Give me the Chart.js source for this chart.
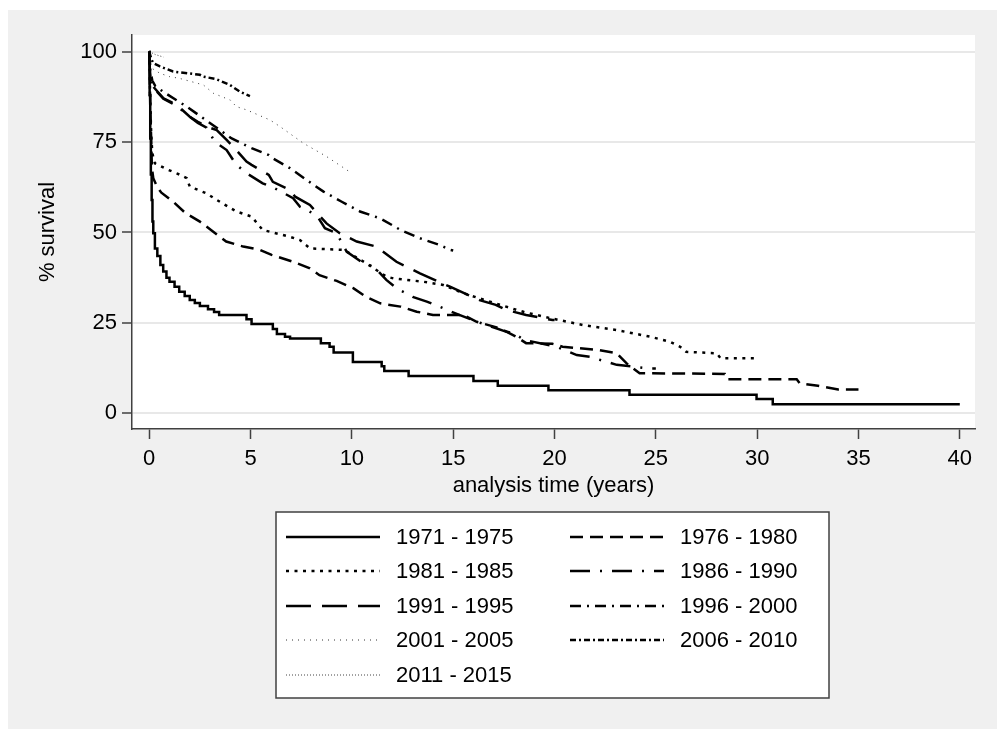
<!DOCTYPE html>
<html>
<head>
<meta charset="utf-8">
<script src="https://cdn.jsdelivr.net/npm/chart.js@4.4.1/dist/chart.umd.min.js"></script>
<style>
  html, body { margin: 0; padding: 0; background: #fff; }
  #wrap { width: 997px; height: 729px; }
</style>
</head>
<body>
<div id="wrap"><canvas id="km" width="997" height="729"></canvas></div>
<script>
// periods (legend order)
const periods = ['1971 - 1975', '1976 - 1980', '1981 - 1985', '1986 - 1990', '1991 - 1995',
                 '1996 - 2000', '2001 - 2005', '2006 - 2010', '2011 - 2015'];

const xTicks = [0, 5, 10, 15, 20, 25, 30, 35, 40];
const yTicks = [0, 25, 50, 75, 100];

// analysis time (years) / % survival
const t1971 = [0, 0.02, 0.05, 0.08, 0.12, 0.16, 0.2, 0.28, 0.4, 0.55, 0.69, 0.85, 1.0, 1.25, 1.48, 1.75, 2.0, 2.25, 2.5, 2.9, 3.2, 3.45, 4.8, 5.05, 6.1, 6.3, 6.7, 6.95, 8.47, 8.9, 9.1, 10.05, 11.47, 11.6, 12.8, 16.0, 17.2, 19.7, 23.7, 29.97, 30.77, 40.0];
const s1971 = [100, 88, 76, 66, 59, 53, 49.8, 45.6, 43.5, 41, 39.2, 37.5, 36.4, 35, 33.6, 32.4, 31.3, 30.5, 29.7, 28.8, 28, 27.2, 26, 24.7, 23.3, 21.9, 21.2, 20.7, 19.4, 18.4, 16.8, 14.2, 13, 11.7, 10.3, 8.9, 7.6, 6.4, 5.1, 3.95, 2.5, 2.5];

const t1976 = [0, 0.05, 0.1, 0.13, 0.2, 0.4, 0.6, 1.18, 1.76, 2.5, 3.16, 3.8, 4.64, 5.46, 6.04, 7.1, 7.93, 8.4, 9.25, 10.07, 10.7, 11.4, 12.4, 13.2, 14.0, 15.5, 16.16, 17.3, 18.1, 18.6, 19.9, 20.4, 22.2, 23.07, 23.56, 24.2, 28.4, 28.5, 31.95, 32.1, 33.0, 34.0, 35.0];
const s1976 = [100, 85, 75, 68, 65, 62.5, 61, 58.5, 55.5, 53, 50.2, 47.5, 46.1, 45.2, 43.8, 41.9, 40.1, 38.2, 36.6, 34.6, 32.2, 30.4, 29.5, 28.1, 27.2, 27.2, 25.3, 23.5, 21.2, 19.4, 19.2, 18.4, 17.5, 16.6, 13.8, 11.1, 10.9, 9.4, 9.4, 8.3, 7.6, 6.6, 6.6];

const t1981 = [0, 0.03, 0.06, 0.1, 0.15, 0.28, 0.5, 0.86, 1.5, 1.85, 2.0, 2.83, 3.33, 4.3, 5.05, 5.6, 6.94, 7.44, 7.93, 9.58, 9.9, 10.7, 11.7, 12.05, 13.5, 14.5, 15.5, 17.3, 18.5, 19.8, 21.4, 23.07, 24.7, 25.7, 26.2, 26.5, 28.0, 28.2, 30.0];
const s1981 = [100, 92, 84, 77, 72, 69.1, 68.5, 67.5, 66, 65, 62.7, 60.8, 59, 55.8, 54.4, 50.7, 48.8, 47.9, 45.6, 45.2, 44.2, 41.5, 37.8, 37.3, 36.4, 35.5, 33.2, 30, 28, 26.3, 24.4, 23.0, 21.2, 19.8, 18.4, 17.0, 16.6, 15.2, 15.2];

const t1986 = [0, 0.03, 0.08, 0.2, 0.7, 1.35, 2.0, 2.4, 2.83, 3.24, 3.82, 4.3, 4.8, 5.6, 6.2, 7.1, 7.44, 8.26, 8.67, 9.25, 9.74, 10.56, 11.1, 11.7, 12.2, 13.0, 13.7, 14.7, 15.3, 16.2, 16.65, 17.6, 18.0, 18.5, 20.1, 21.1, 21.75, 23.07, 24.7, 25.0];
const s1986 = [100, 95, 92, 90, 87, 85, 82, 80.3, 79, 75.1, 72.8, 68.7, 66.4, 63.6, 62.2, 59.5, 57.1, 54.8, 51.2, 49.8, 44.7, 41.5, 40.5, 36.9, 34.6, 32.2, 30.9, 28.6, 27.2, 25.3, 24.4, 22.6, 22.1, 20.3, 18.4, 16.1, 15.6, 13.4, 12.4, 12.4];

const t1991 = [0, 0.03, 0.08, 0.2, 0.7, 1.35, 2.0, 2.4, 2.83, 3.33, 3.82, 4.15, 4.8, 5.05, 5.9, 6.1, 6.94, 7.2, 7.93, 8.26, 8.75, 9.4, 10.24, 11.2, 12.2, 13.36, 14.84, 16.3, 17.1, 17.6, 18.6, 19.9, 20.0];
const s1991 = [100, 95, 92, 90.3, 87.1, 85.3, 82, 80.6, 79.3, 78.3, 75.6, 73.7, 69.6, 68.7, 65.9, 64, 61.8, 59.9, 57.6, 55.5, 52.5, 49.8, 47.5, 46.1, 41.9, 38.7, 35.0, 31.3, 30, 28.6, 27.2, 25.8, 25.8];

const t1996 = [0, 0.05, 0.15, 0.3, 0.69, 1.85, 3.24, 4.07, 5.05, 5.9, 6.1, 6.94, 7.77, 8.6, 9.5, 10.4, 11.4, 12.4, 13.36, 14.35, 14.84, 15.0];
const s1996 = [100, 95, 92, 90.5, 88.9, 84.8, 79.3, 76, 73.3, 71.4, 70.5, 67.8, 64.5, 61.3, 58.5, 55.8, 53.9, 50.7, 48.4, 46.5, 45.2, 45.0];

const t2001 = [0, 0.13, 0.53, 1.0, 1.5, 2.67, 3.16, 4.0, 4.3, 4.8, 5.96, 6.45, 7.6, 8.75, 9.99];
const s2001 = [100, 95.4, 94, 93.1, 92.6, 90.8, 88.5, 86.6, 84.8, 83.9, 81.1, 79.3, 74.7, 71, 66.4];

const t2006 = [0, 0.1, 0.2, 0.53, 1.18, 2.5, 2.67, 3.3, 3.98, 4.48, 4.97];
const s2006 = [100, 98, 96.8, 95.9, 94.5, 93.6, 93.1, 92.4, 90.8, 88.9, 87.7];

const t2011 = [0, 0.3, 0.7];
const s2011 = [100, 99.2, 98.5];

const times = [t1971, t1976, t1981, t1986, t1991, t1996, t2001, t2006, t2011];
const surv  = [s1971, s1976, s1981, s1986, s1991, s1996, s2001, s2006, s2011];

// stata-like line patterns
const dashes = [[], [13, 7], [3, 5.5], [20, 10, 2, 10], [25, 11], [11, 6, 2, 6], [1, 5], [6, 3, 2, 3], [1, 2]];
const widths = [2.5, 2.5, 2.5, 2.5, 2.5, 2.5, 1, 2.5, 1];
const colors = ['#000', '#000', '#000', '#000', '#000', '#000', '#333', '#000', '#444'];

const FONT = 'Liberation Sans, Arial, Helvetica, sans-serif';

const datasets = periods.map((label, i) => ({
  label,
  data: times[i].map((x, j) => ({ x, y: surv[i][j] })),
  borderColor: colors[i],
  borderWidth: widths[i],
  borderDash: dashes[i],
  pointRadius: 0,
  fill: false,
  tension: 0,
  stepped: i === 0
}));

const bgPlugin = {
  id: 'bg',
  beforeDraw(chart) {
    const { ctx, chartArea: a } = chart;
    ctx.save();
    ctx.fillStyle = '#ffffff';
    ctx.fillRect(0, 0, chart.width, chart.height);
    ctx.fillStyle = '#f0f0f0';
    ctx.fillRect(8, 10, chart.width - 8, chart.height - 10);
    ctx.fillStyle = '#ffffff';
    ctx.fillRect(a.left, a.top, a.right - a.left, a.bottom - a.top);
    ctx.restore();
  }
};

// legend box under the plot, two columns
const legendPlugin = {
  id: 'kmLegend',
  afterDraw(chart) {
    const ctx = chart.ctx;
    const box = { x: 276, y: 512, w: 553, h: 186 };
    const rows = [537, 571, 606, 640, 675];
    const cols = [{ l1: 286, l2: 380, tx: 396 }, { l1: 570, l2: 664, tx: 680 }];
    ctx.save();
    ctx.fillStyle = '#fff';
    ctx.fillRect(box.x, box.y, box.w, box.h);
    ctx.strokeStyle = '#404040';
    ctx.lineWidth = 1.5;
    ctx.strokeRect(box.x, box.y, box.w, box.h);
    ctx.font = '22px ' + FONT;
    ctx.textBaseline = 'middle';
    chart.data.datasets.forEach((ds, i) => {
      const c = cols[i % 2], y = rows[Math.floor(i / 2)];
      ctx.beginPath();
      ctx.setLineDash(ds.borderDash);
      ctx.lineWidth = ds.borderWidth;
      ctx.strokeStyle = ds.borderColor;
      ctx.moveTo(c.l1, y);
      ctx.lineTo(c.l2, y);
      ctx.stroke();
      ctx.setLineDash([]);
      ctx.fillStyle = '#000';
      ctx.fillText(ds.label, c.tx, y + 1);
    });
    ctx.restore();
  }
};

new Chart(document.getElementById('km'), {
  type: 'line',
  data: { datasets },
  plugins: [bgPlugin, legendPlugin],
  options: {
    responsive: false,
    animation: false,
    layout: { padding: { left: 0, top: 35, right: 22, bottom: 230 } },
    plugins: { legend: { display: false }, tooltip: { enabled: false } },
    scales: {
      x: {
        type: 'linear',
        min: -0.85,
        max: 40.75,
        afterBuildTicks: (s) => { s.ticks = xTicks.map(v => ({ value: v })); },
        afterFit: (s) => { s.height = 70; },
        ticks: { color: '#000', font: { size: 22, family: FONT }, padding: 7, maxRotation: 0 },
        grid: { drawOnChartArea: false, drawTicks: true, tickLength: 10, tickColor: '#404040', tickWidth: 1.5 },
        border: { color: '#404040', width: 1.5 },
        title: { display: true, text: 'analysis time (years)', color: '#000', font: { size: 22, family: FONT }, padding: { top: 0, bottom: 0 } }
      },
      y: {
        type: 'linear',
        min: -4.34,
        max: 104.6,
        afterBuildTicks: (s) => { s.ticks = yTicks.map(v => ({ value: v })); },
        afterFit: (s) => { s.width = 132; },
        ticks: { color: '#000', font: { size: 22, family: FONT }, padding: 5 },
        grid: { color: '#e8e8e8', lineWidth: 2, drawTicks: true, tickLength: 10, tickColor: '#404040', tickWidth: 1.5 },
        border: { color: '#404040', width: 1.5 },
        title: { display: true, text: '% survival', color: '#000', font: { size: 22, family: FONT }, padding: { top: 35, bottom: 0 } }
      }
    }
  }
});
</script>
</body>
</html>
